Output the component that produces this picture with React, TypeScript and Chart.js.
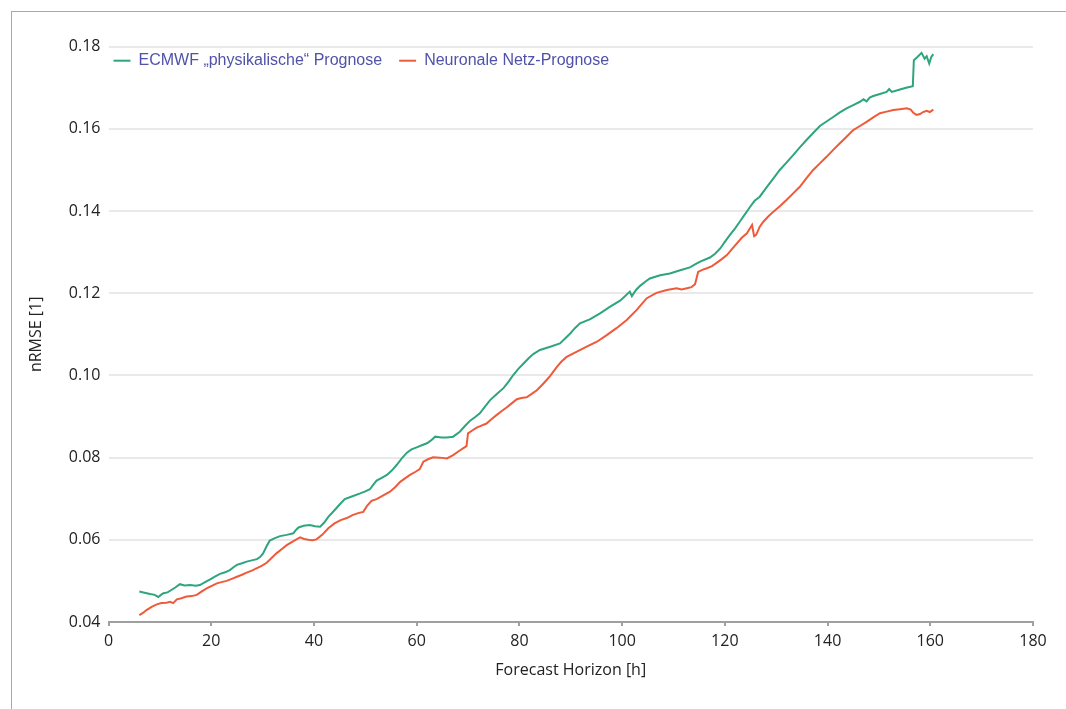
import React, { useEffect, useRef } from "react";
import { Chart, registerables } from "chart.js";

Chart.register(...registerables);

// ---- data ----
const seriesLabels = ["ECMWF „physikalische“ Prognose", "Neuronale Netz-Prognose"];
const seriesColors = ["#2ea57f", "#ee5a3a"];

const xTickValues = [0, 20, 40, 60, 80, 100, 120, 140, 160, 180];
const yTickValues = [0.04, 0.06, 0.08, 0.1, 0.12, 0.14, 0.16, 0.18];

const ecmwfX = [
  6.0, 7.0, 8.1, 9.0, 9.7, 10.2, 10.7, 11.5, 12.0, 13.0, 13.9, 14.8, 15.9, 17.0, 17.8, 18.8, 19.8,
  20.8, 21.7, 22.7, 23.7, 24.4, 25.0, 26.0, 26.9, 27.9, 28.9, 29.5, 30.1, 30.8, 31.4, 32.4, 33.4,
  34.7, 36.0, 36.5, 37.0, 38.0, 39.2, 40.2, 41.2, 42.0, 42.8, 44.0, 45.0, 46.0, 47.5, 49.0, 50.0,
  50.9, 51.6, 52.2, 53.2, 54.2, 55.2, 56.1, 57.1, 58.1, 59.0, 60.0, 61.0, 62.0, 62.8, 63.6, 64.8,
  65.9, 67.1, 68.4, 69.4, 70.4, 71.4, 72.3, 73.3, 74.3, 75.6, 76.9, 77.9, 78.8, 79.8, 80.8, 81.8,
  82.7, 84.0, 86.0, 87.9, 88.9, 89.9, 90.8, 91.8, 93.8, 95.7, 97.6, 99.6, 100.5, 101.5, 101.9,
  102.7, 103.5, 104.5, 105.4, 107.4, 109.3, 111.3, 113.2, 114.2, 115.2, 117.1, 118.1, 119.1, 120.0,
  121.0, 122.0, 122.9, 123.9, 124.9, 125.8, 126.8, 128.2, 129.5, 130.7, 132.0, 133.3, 134.6, 135.9,
  137.2, 138.5, 139.8, 141.1, 142.4, 143.7, 145.0, 146.3, 147.0, 147.6, 148.2, 148.9, 150.2, 151.5,
  152.0, 152.5, 154.1, 155.3, 156.6, 156.8, 157.5, 158.3, 158.9, 159.3, 159.8, 160.2, 160.6,
];
const ecmwfY = [
  0.0474, 0.0471, 0.0468, 0.0466, 0.0461, 0.0466, 0.047, 0.0472, 0.0476, 0.0484, 0.0492, 0.0489,
  0.049, 0.0488, 0.049, 0.0497, 0.0504, 0.0511, 0.0517, 0.0521, 0.0527, 0.0534, 0.0539, 0.0543,
  0.0547, 0.055, 0.0553, 0.0558, 0.0567, 0.0585, 0.0598, 0.0604, 0.0609, 0.0612, 0.0616, 0.0624,
  0.063, 0.0634, 0.0636, 0.0633, 0.0632, 0.0642, 0.0656, 0.0672, 0.0686, 0.0699, 0.0706, 0.0713,
  0.0718, 0.0723, 0.0735, 0.0744, 0.0751, 0.0758, 0.0769, 0.0782, 0.0798, 0.0812, 0.082, 0.0825,
  0.083, 0.0835, 0.0842, 0.0851, 0.0849, 0.0849, 0.0851, 0.0863, 0.0877, 0.089, 0.0899, 0.0908,
  0.0924, 0.094, 0.0955, 0.0969, 0.0985, 0.1001, 0.1016, 0.1029, 0.1042, 0.1052, 0.1062, 0.107,
  0.1078, 0.109, 0.1102, 0.1115, 0.1127, 0.1137, 0.1151, 0.1167, 0.1182, 0.1192, 0.1204, 0.1193,
  0.1208, 0.1218, 0.1228, 0.1236, 0.1244, 0.1248, 0.1256, 0.1263, 0.127, 0.1277, 0.1287, 0.1296,
  0.1309, 0.1325, 0.1342, 0.1358, 0.1374, 0.1392, 0.141, 0.1425, 0.1435, 0.1459, 0.148, 0.15,
  0.1518, 0.1536, 0.1555, 0.1573, 0.159, 0.1607, 0.1618, 0.1629, 0.164, 0.165, 0.1658, 0.1666,
  0.1672, 0.1667, 0.1676, 0.168, 0.1685, 0.169, 0.1697, 0.169, 0.1696, 0.17, 0.1704, 0.1767,
  0.1775, 0.1785, 0.1771, 0.1777, 0.1759, 0.1775, 0.1782,
];

const neuralX = [
  6.0, 6.7, 7.4, 8.4, 9.4, 10.3, 11.3, 12.0, 12.6, 13.3, 14.2, 15.2, 16.2, 17.2, 18.1, 19.1, 20.1,
  21.1, 22.0, 23.0, 24.0, 25.0, 26.0, 26.9, 27.9, 28.9, 29.9, 30.8, 31.7, 32.7, 33.7, 34.7, 35.6,
  36.6, 37.3, 38.1, 38.9, 39.7, 40.5, 41.6, 42.8, 44.0, 45.2, 46.4, 47.5, 48.6, 49.6, 50.3, 51.2,
  52.2, 53.5, 54.8, 55.8, 56.8, 57.8, 58.7, 59.7, 60.6, 61.3, 62.2, 63.2, 64.5, 65.9, 67.1, 68.1,
  69.1, 69.7, 70.0, 70.8, 71.7, 72.6, 73.6, 74.6, 75.6, 76.5, 77.5, 78.5, 79.5, 80.4, 81.4, 82.4,
  83.4, 84.5, 85.3, 86.0, 87.3, 88.2, 89.2, 91.2, 93.1, 95.1, 97.0, 98.9, 100.9, 102.8, 104.8,
  106.7, 108.7, 110.6, 111.6, 112.6, 113.5, 114.2, 114.8, 115.6, 116.5, 117.5, 118.4, 119.4, 120.4,
  121.3, 122.3, 123.3, 124.3, 124.9, 125.3, 125.7, 126.1, 126.8, 127.5, 128.4, 129.4, 130.7, 132.0,
  133.3, 134.6, 135.9, 137.2, 138.5, 139.8, 141.1, 142.4, 143.7, 145.0, 146.3, 147.6, 148.9, 150.2,
  151.5, 152.8, 154.1, 155.4, 156.2, 156.7, 157.3, 158.0, 158.6, 159.3, 159.9, 160.6,
];
const neuralY = [
  0.0417, 0.0422, 0.0429, 0.0437, 0.0443, 0.0446, 0.0447, 0.0449, 0.0446, 0.0455, 0.0458, 0.0462,
  0.0463, 0.0466, 0.0474, 0.0482, 0.0488, 0.0494, 0.0497, 0.05, 0.0505, 0.051, 0.0515, 0.052,
  0.0525, 0.0531, 0.0537, 0.0544, 0.0555, 0.0567, 0.0577, 0.0587, 0.0594, 0.0601, 0.0606, 0.0602,
  0.06, 0.0599, 0.0601, 0.0612, 0.0628, 0.064, 0.0648, 0.0653, 0.066, 0.0665, 0.0668, 0.0682,
  0.0695, 0.0699, 0.0708, 0.0717, 0.0728, 0.0741, 0.075, 0.0758, 0.0765, 0.0772, 0.079, 0.0796,
  0.0801, 0.08, 0.0798, 0.0806, 0.0815, 0.0823, 0.0828, 0.0859, 0.0866, 0.0873, 0.0878, 0.0883,
  0.0894, 0.0904, 0.0913, 0.0922, 0.0932, 0.0942, 0.0945, 0.0947, 0.0955, 0.0964, 0.0978, 0.0989,
  0.0999, 0.1021, 0.1034, 0.1045, 0.1058, 0.107, 0.1082, 0.1098, 0.1115, 0.1135, 0.1159, 0.1188,
  0.1201, 0.1208, 0.1212, 0.1209, 0.1212, 0.1215, 0.1222, 0.1252, 0.1257, 0.1261, 0.1266, 0.1274,
  0.1283, 0.1293, 0.1306, 0.1321, 0.1335, 0.1346, 0.1358, 0.1366, 0.1339, 0.1342, 0.1362, 0.1374,
  0.1386, 0.1398, 0.1412, 0.1427, 0.1443, 0.1459, 0.148, 0.15, 0.1516, 0.1532, 0.1549, 0.1565,
  0.1581, 0.1597, 0.1607, 0.1617, 0.1628, 0.1638, 0.1642, 0.1646, 0.1648, 0.165, 0.1647, 0.1639,
  0.1634, 0.1636, 0.1641, 0.1644, 0.1641, 0.1647,
];

const xTitle = "Forecast Horizon [h]";
const yTitle = "nRMSE [1]";

const tickFont = { family: "'Open Sans', 'Noto Sans', sans-serif", size: 16 };
const legendFontCss = "16px 'Liberation Sans', Arial, sans-serif";
const legendTextColor = "#4f52a8";

const legendPlugin = {
  id: "insideLegend",
  afterDraw(chart: any) {
    const { ctx, chartArea } = chart;
    ctx.save();
    ctx.font = legendFontCss;
    ctx.textBaseline = "middle";
    ctx.textAlign = "left";
    const y = chartArea.top + 14;
    let x = chartArea.left + 5;
    chart.data.datasets.forEach((ds: any) => {
      ctx.strokeStyle = ds.borderColor;
      ctx.lineWidth = 2;
      ctx.beginPath();
      ctx.moveTo(x, y);
      ctx.lineTo(x + 17, y);
      ctx.stroke();
      x += 25;
      ctx.fillStyle = legendTextColor;
      ctx.fillText(ds.label, x, y);
      x += ctx.measureText(ds.label).width + 17;
    });
    ctx.restore();
  },
};

export default function App() {
  const canvasRef = useRef<HTMLCanvasElement | null>(null);

  useEffect(() => {
    document.body.style.overflow = "hidden";
    const ctx = canvasRef.current!.getContext("2d")!;
    const chart = new Chart(ctx, {
      type: "line",
      data: {
        datasets: [
          {
            label: seriesLabels[0],
            data: ecmwfX.map((x, i) => ({ x, y: ecmwfY[i] })),
            borderColor: seriesColors[0],
            backgroundColor: seriesColors[0],
            borderWidth: 2,
            pointRadius: 0,
            tension: 0,
          },
          {
            label: seriesLabels[1],
            data: neuralX.map((x, i) => ({ x, y: neuralY[i] })),
            borderColor: seriesColors[1],
            backgroundColor: seriesColors[1],
            borderWidth: 2,
            pointRadius: 0,
            tension: 0,
          },
        ],
      },
      options: {
        animation: false,
        responsive: true,
        maintainAspectRatio: false,
        layout: { padding: { left: 20, right: 33, top: 46.7, bottom: 20 } },
        plugins: { legend: { display: false }, tooltip: { enabled: false } },
        scales: {
          x: {
            type: "linear",
            min: 0,
            max: 180,
            afterBuildTicks: (s: any) => {
              s.ticks = xTickValues.map((v) => ({ value: v }));
            },
            afterFit: (s: any) => {
              s.height = 67;
            },
            ticks: { font: tickFont, color: "#222", padding: 6, maxRotation: 0 },
            grid: { drawOnChartArea: false, drawTicks: true, tickLength: 4, color: "#a0a0a0", lineWidth: 2 },
            border: { display: true, color: "#a0a0a0", width: 2 },
            title: {
              display: true,
              text: xTitle,
              font: tickFont,
              color: "#222",
              padding: { top: 4, bottom: 9 },
            },
          },
          y: {
            type: "linear",
            min: 0.04,
            max: 0.18,
            afterBuildTicks: (s: any) => {
              s.ticks = yTickValues.map((v) => ({ value: v }));
            },
            afterFit: (s: any) => {
              s.width = 88.5;
            },
            ticks: {
              font: tickFont,
              color: "#222",
              padding: 8,
              callback: (v: any) => Number(v).toFixed(2),
            },
            grid: { drawTicks: false, color: "#e9e9e9", lineWidth: 2 },
            border: { display: false },
            title: {
              display: true,
              text: yTitle,
              font: tickFont,
              color: "#222",
              padding: { top: 7, bottom: 0 },
            },
          },
        },
      },
      plugins: [legendPlugin],
    } as any);
    return () => chart.destroy();
  }, []);

  return (
    <>
      <div
        style={{
          position: "fixed",
          left: 0,
          top: 0,
          width: 1066,
          height: 709,
          background: "#fff",
        }}
      >
        <canvas ref={canvasRef} />
      </div>
      <div
        style={{
          position: "fixed",
          left: 11,
          top: 11,
          width: 1055,
          height: 698,
          borderTop: "1px solid #a8a8a8",
          borderLeft: "1px solid #a8a8a8",
          boxSizing: "border-box",
          pointerEvents: "none",
        }}
      />
    </>
  );
}
